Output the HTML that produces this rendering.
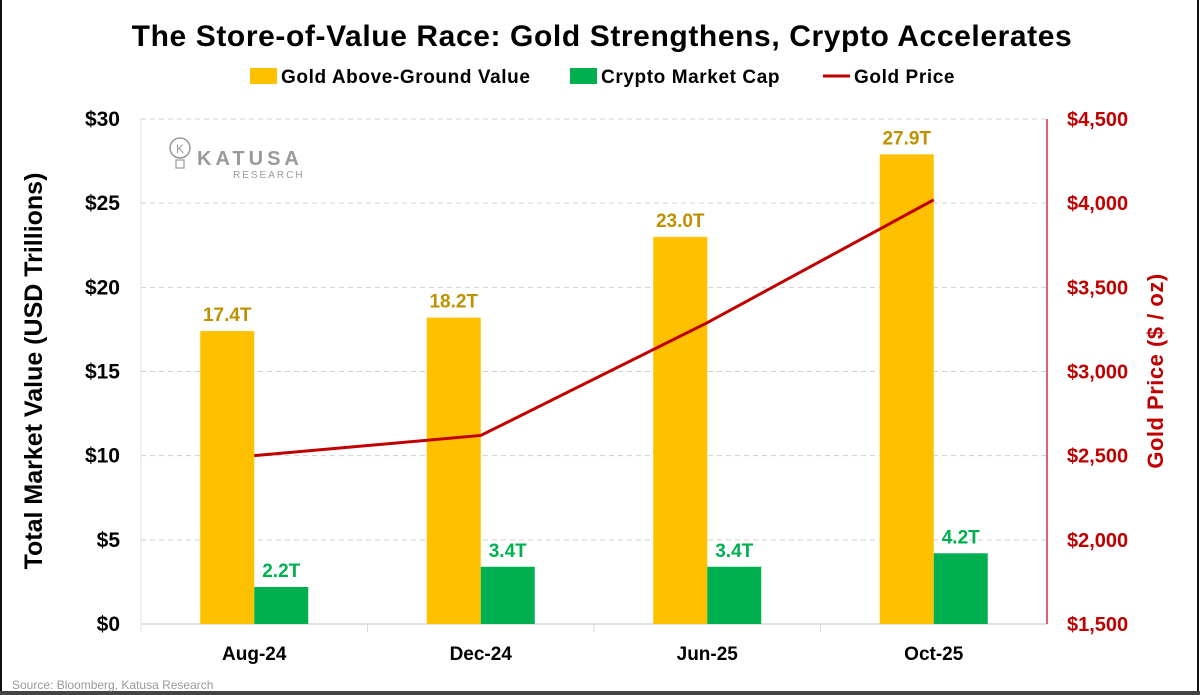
<!DOCTYPE html>
<html><head><meta charset="utf-8"><style>
body{margin:0;background:#fff;}
svg{display:block;font-family:"Liberation Sans",Arial,sans-serif;}
</style></head><body>
<svg id="chart" width="1200" height="695" viewBox="0 0 1200 695">
<rect x="1" y="1" width="1197" height="691" fill="#fff" stroke="none"/>
<line x1="1" y1="0" x2="1" y2="695" stroke="#111" stroke-width="2"/>
<line x1="1198" y1="0" x2="1198" y2="695" stroke="#111" stroke-width="2"/>
<line x1="0" y1="693" x2="1200" y2="693" stroke="#444" stroke-width="4"/>
<text x="602" y="46" text-anchor="middle" font-size="30" font-weight="bold" fill="#000" letter-spacing="0.6">The Store-of-Value Race: Gold Strengthens, Crypto Accelerates</text>
<g>
<g><rect x="250" y="68" width="27" height="16" fill="#FFC000"/><text x="281" y="83" font-size="19" font-weight="bold" letter-spacing="0.6">Gold Above-Ground Value</text></g>
<g><rect x="570" y="68" width="27" height="16" fill="#00B050"/><text x="601" y="83" font-size="19" font-weight="bold" letter-spacing="0.6">Crypto Market Cap</text></g>
<g><line x1="823" y1="76" x2="850" y2="76" stroke="#C00000" stroke-width="3"/><text x="854" y="83" font-size="19" font-weight="bold" letter-spacing="0.6">Gold Price</text></g>
</g>
<g>
<circle cx="180" cy="148" r="10" fill="none" stroke="#999" stroke-width="1.5"/>
<text x="176" y="153" font-size="12" fill="#999">K</text>
<rect x="176" y="160" width="8" height="8" fill="none" stroke="#999" stroke-width="1.2"/>
<text x="197" y="165" font-size="20" font-weight="bold" fill="#999" letter-spacing="4">KATUSA</text>
<text x="233" y="178" font-size="10" fill="#999" letter-spacing="2">RESEARCH</text>
</g>
<text transform="translate(42,371) rotate(-90)" text-anchor="middle" font-size="25" font-weight="bold">Total Market Value (USD Trillions)</text>
<text transform="translate(1163,371) rotate(-90)" text-anchor="middle" font-size="22" font-weight="bold" fill="#C00000" letter-spacing="0.5">Gold Price ($ / oz)</text>
<text x="12" y="689" font-size="12" fill="#999">Source: Bloomberg, Katusa Research</text>
<g id="plot"></g>
</svg>
<script>
const categories=["Aug-24","Dec-24","Jun-25","Oct-25"];
const goldValue=[17.4,18.2,23.0,27.9];
const cryptoValue=[2.2,3.4,3.4,4.2];
const goldPrice=[2500,2620,3290,4020];
const leftTicks=[0,5,10,15,20,25,30];
const rightTicks=[1500,2000,2500,3000,3500,4000,4500];
const NS="http://www.w3.org/2000/svg";
const g=document.getElementById('plot');
const X0=141,X1=1047,Y0=624,Y1=119;
const band=(X1-X0)/categories.length;
const xc=i=>X0+band*(i+0.5);
const yL=v=>Y0-(v-0)/(30-0)*(Y0-Y1);
const yR=v=>Y0-(v-1500)/(4500-1500)*(Y0-Y1);
function mk(t,a,txt){const e=document.createElementNS(NS,t);for(const k in a)e.setAttribute(k,a[k]);if(txt!==undefined)e.textContent=txt;g.appendChild(e);return e;}
leftTicks.forEach(v=>{
 if(v>0){const l=mk('line',{x1:X0,x2:X1,y1:yL(v),y2:yL(v),stroke:'#d0d0d0','stroke-dasharray':'5,4'});
 
 }
 const t=mk('text',{x:120,y:yL(v)+7,'text-anchor':'end','font-size':21,'font-weight':'bold'},'$'+v);
 
 
});
rightTicks.forEach(v=>{
 const t=mk('text',{x:1067,y:yR(v)+7,'font-size':20,'font-weight':'bold',fill:'#C00000'},'$'+v.toLocaleString('en-US'));
 
 
});
let ax=mk('line',{x1:X0,x2:X1,y1:Y0,y2:Y0,stroke:'#d9d9d9','stroke-width':1.5});


let la=mk('line',{x1:X0,x2:X0,y1:Y1,y2:Y0+8,stroke:'#e0e0e0'});


let ra=mk('line',{x1:X1,x2:X1,y1:Y1,y2:Y0,stroke:'#C00000','stroke-width':1.2});


const bw=54;
categories.forEach((c,i)=>{
 const cx=xc(i);
 const b1=mk('rect',{x:cx-bw,y:yL(goldValue[i]),width:bw,height:Y0-yL(goldValue[i]),fill:'#FFC000'});
 
 
 const b2=mk('rect',{x:cx,y:yL(cryptoValue[i]),width:bw,height:Y0-yL(cryptoValue[i]),fill:'#00B050'});
 
 
 const l1=mk('text',{x:cx-bw/2,y:yL(goldValue[i])-10,'text-anchor':'middle','font-size':19,'font-weight':'bold',fill:'#BF9000'},goldValue[i].toFixed(1)+'T');
 
 
 const l2=mk('text',{x:cx+bw/2,y:yL(cryptoValue[i])-10,'text-anchor':'middle','font-size':19,'font-weight':'bold',fill:'#00B050'},cryptoValue[i].toFixed(1)+'T');
 
 
 const xl=mk('text',{x:cx,y:660,'text-anchor':'middle','font-size':19,'font-weight':'bold'},c);
 
 
 if(i>0){const tk=mk('line',{x1:X0+band*i,x2:X0+band*i,y1:Y0,y2:Y0+8,stroke:'#d9d9d9'});
 
 }
});
const pl=mk('polyline',{points:goldPrice.map((v,i)=>xc(i)+','+yR(v)).join(' '),fill:'none',stroke:'#C00000','stroke-width':3});


</script>
</body></html>
